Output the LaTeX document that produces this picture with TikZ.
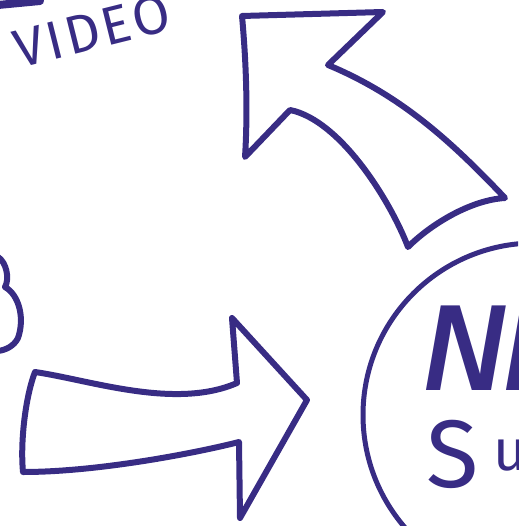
\documentclass[tikz,border=0pt]{standalone}
\usepackage{fontspec}
\newfontfamily\markerfont{Fira Sans}
\newfontfamily\boldmarkerfont{Liberation Sans}
\definecolor{marker}{RGB}{56,44,132}

\begin{document}
\begin{tikzpicture}[
    x=1pt, y=-1pt,
    outline/.style={
        draw=marker, line width=6pt,
        line cap=round, line join=round,
    },
    lettering/.style={
        text=marker, inner sep=0pt,
    },
]
\useasboundingbox (0,0) rectangle (518,526);
\clip (0,0) rectangle (518,526);

% cut-off stroke at the top left
\draw[outline, line width=8pt] (-2,5) -- (40,1);

% video label
\node[lettering, rotate=14,
    font=\markerfont\addfontfeatures{LetterSpace=6}\fontsize{54}{54}\selectfont] (video) at (92,31) {VIDEO};

% fragment of a letter on the left border
\draw[outline] (-2,257) .. controls (6,262) and (10,278) .. (5,287)
    .. controls (19,295) and (25,318) .. (18,338)
    .. controls (14,346) and (6,350) .. (-2,351);

% upper arrow, pointing up-left
\draw[outline] (242,16) -- (383,12) -- (328,65)
    .. controls (400,95) and (450,140) .. (505,198)
    .. controls (470,200) and (430,225) .. (408,247)
    .. controls (390,200) and (340,120) .. (290,110)
    -- (245,157) .. controls (248,110) and (246,60) .. (242,16) -- cycle;

% lower arrow, pointing right
\draw[outline] (35,372) .. controls (90,380) and (175,410) .. (237,383)
    -- (232,318) -- (307,400) -- (240,518) -- (239,442)
    .. controls (200,452) and (100,472) .. (23,472)
    .. controls (20,440) and (26,395) .. (35,372) -- cycle;

% circle with its texts
\draw[outline, line width=5pt] (535,415) circle[radius=172pt];
\node[lettering, anchor=base west,
    font=\boldmarkerfont\bfseries\itshape\fontsize{123}{123}\selectfont] (brand) at (424,390) {\scalebox{0.9}[1]{NE}};
\node[lettering, anchor=base west,
    font=\markerfont\fontsize{96}{96}\selectfont] (sub) at (426,487) {S\kern15pt\raisebox{17pt}{\fontsize{58}{58}\selectfont u}};

\end{tikzpicture}
\end{document}
